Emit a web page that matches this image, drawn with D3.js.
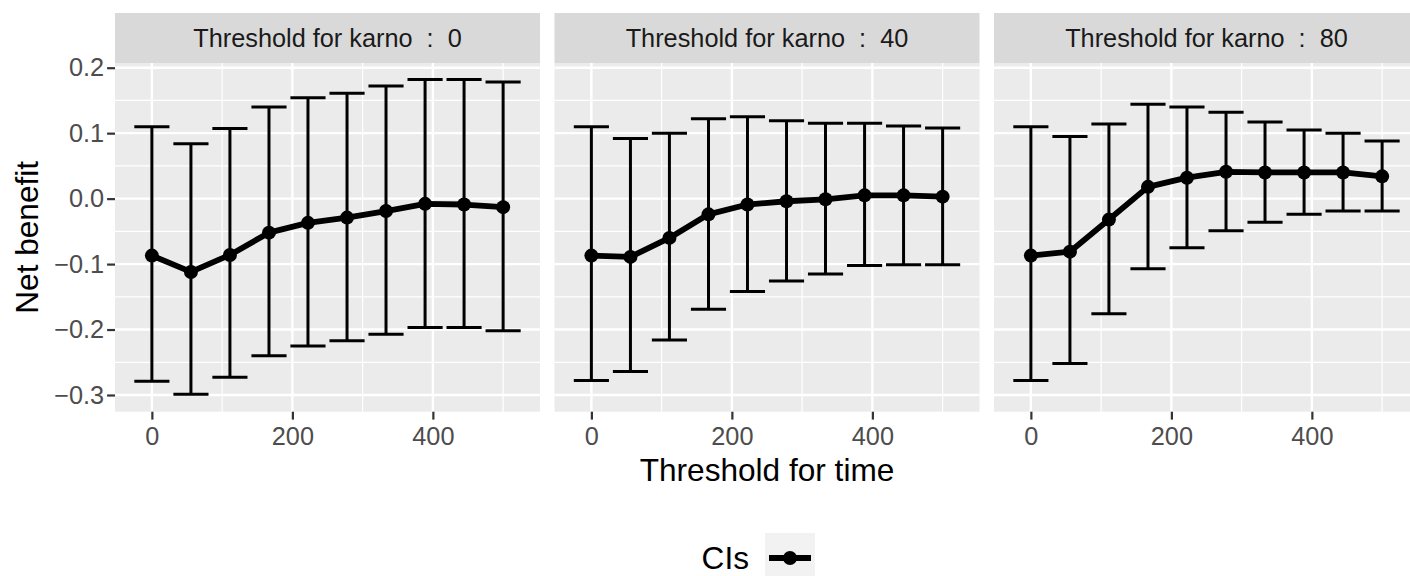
<!DOCTYPE html>
<html>
<head>
<meta charset="utf-8">
<script src="https://cdn.jsdelivr.net/npm/d3@7"></script>
<style>
  body { margin: 0; background: #fff; }
  text { font-family: "Liberation Sans", Arial, sans-serif; }
</style>
</head>
<body>
<div id="chart"></div>
<script>
// data
const thresholdsTime = [0, 55.6, 111.1, 166.7, 222.2, 277.8, 333.3, 388.9, 444.4, 500];
const karnoLevels = ["0", "40", "80"];

const estimate0 = [-0.087, -0.112, -0.086, -0.052, -0.037, -0.029, -0.019, -0.008, -0.009, -0.013];
const lower0 = [-0.279, -0.299, -0.273, -0.240, -0.225, -0.217, -0.207, -0.197, -0.197, -0.202];
const upper0 = [0.110, 0.084, 0.107, 0.140, 0.154, 0.161, 0.172, 0.182, 0.182, 0.178];

const estimate40 = [-0.087, -0.089, -0.060, -0.024, -0.009, -0.004, -0.001, 0.005, 0.005, 0.003];
const lower40 = [-0.278, -0.264, -0.216, -0.169, -0.142, -0.126, -0.115, -0.102, -0.101, -0.101];
const upper40 = [0.110, 0.092, 0.100, 0.122, 0.125, 0.119, 0.115, 0.115, 0.111, 0.108];

const estimate80 = [-0.087, -0.081, -0.032, 0.018, 0.032, 0.041, 0.040, 0.040, 0.040, 0.034];
const lower80 = [-0.278, -0.252, -0.176, -0.107, -0.075, -0.049, -0.036, -0.024, -0.019, -0.019];
const upper80 = [0.110, 0.095, 0.114, 0.144, 0.140, 0.132, 0.117, 0.105, 0.100, 0.088];

const yTicks = [-0.3, -0.2, -0.1, 0.0, 0.1, 0.2];
const xTicks = [0, 200, 400];

const series = [
  {level: karnoLevels[0], est: estimate0, lo: lower0, hi: upper0},
  {level: karnoLevels[1], est: estimate40, lo: lower40, hi: upper40},
  {level: karnoLevels[2], est: estimate80, lo: lower80, hi: upper80}
];

const WIDTH = 1410, HEIGHT = 576;
const PANEL_LEFT = 115, PANEL_W = 425, PANEL_GAP = 14.5;
const STRIP_TOP = 13, STRIP_H = 50;
const PANEL_TOP = STRIP_TOP + STRIP_H, PANEL_BOTTOM = 411.7;
const WHISKER = 25; // half width of errorbar caps, in data units
const SMALL = 25.3, BIG = 31.6; // font sizes

const svg = d3.select("#chart").append("svg")
  .attr("width", WIDTH).attr("height", HEIGHT);

const yScale = d3.scaleLinear().domain([-0.3255, 0.2072]).range([PANEL_BOTTOM, PANEL_TOP]);

series.forEach((s, i) => {
  const x0 = PANEL_LEFT + i * (PANEL_W + PANEL_GAP);
  const xScale = d3.scaleLinear().domain([-52.5, 552.5]).range([x0, x0 + PANEL_W]);
  const g = svg.append("g");

  // strip
  g.append("rect").attr("x", x0).attr("y", STRIP_TOP).attr("width", PANEL_W).attr("height", STRIP_H)
    .attr("fill", "#D9D9D9");
  g.append("text").attr("x", x0 + PANEL_W / 2).attr("y", STRIP_TOP + STRIP_H / 2 + 9)
    .attr("text-anchor", "middle").attr("font-size", SMALL).attr("fill", "#1A1A1A")
    .attr("xml:space", "preserve")
    .text("Threshold for karno  :  " + s.level);

  // panel
  g.append("rect").attr("x", x0).attr("y", PANEL_TOP).attr("width", PANEL_W)
    .attr("height", PANEL_BOTTOM - PANEL_TOP).attr("fill", "#EBEBEB");

  // minor grid
  const yMinor = [-0.25, -0.15, -0.05, 0.05, 0.15];
  const xMinor = [100, 300, 500];
  g.selectAll(".ymin").data(yMinor).enter().append("line")
    .attr("x1", x0).attr("x2", x0 + PANEL_W)
    .attr("y1", d => yScale(d)).attr("y2", d => yScale(d))
    .attr("stroke", "#fff").attr("stroke-width", 1.2);
  g.selectAll(".xmin").data(xMinor).enter().append("line")
    .attr("y1", PANEL_TOP).attr("y2", PANEL_BOTTOM)
    .attr("x1", d => xScale(d)).attr("x2", d => xScale(d))
    .attr("stroke", "#fff").attr("stroke-width", 1.2);
  // major grid
  g.selectAll(".ymaj").data(yTicks).enter().append("line")
    .attr("x1", x0).attr("x2", x0 + PANEL_W)
    .attr("y1", d => yScale(d)).attr("y2", d => yScale(d))
    .attr("stroke", "#fff").attr("stroke-width", 2.4);
  g.selectAll(".xmaj").data(xTicks).enter().append("line")
    .attr("y1", PANEL_TOP).attr("y2", PANEL_BOTTOM)
    .attr("x1", d => xScale(d)).attr("x2", d => xScale(d))
    .attr("stroke", "#fff").attr("stroke-width", 2.4);

  // x axis
  const xAxis = g.append("g").attr("transform", "translate(0," + PANEL_BOTTOM + ")")
    .call(d3.axisBottom(xScale).tickValues(xTicks).tickSize(7.9).tickPadding(7).tickFormat(d3.format("d")));
  xAxis.select(".domain").remove();
  xAxis.selectAll(".tick line").attr("stroke", "#333333").attr("stroke-width", 2.2);
  xAxis.selectAll(".tick text").attr("font-size", SMALL).attr("fill", "#4D4D4D")
    .attr("font-family", "Liberation Sans, Arial, sans-serif");

  // y axis on first panel
  if (i === 0) {
    const yAxis = g.append("g").attr("transform", "translate(" + x0 + ",0)")
      .call(d3.axisLeft(yScale).tickValues(yTicks).tickSize(7.9).tickPadding(3)
        .tickFormat(d => d3.format(".1f")(d).replace("-", "\u2212")));
    yAxis.select(".domain").remove();
    yAxis.selectAll(".tick line").attr("stroke", "#333333").attr("stroke-width", 2.2);
    yAxis.selectAll(".tick text").attr("font-size", SMALL).attr("fill", "#4D4D4D")
      .attr("font-family", "Liberation Sans, Arial, sans-serif");
  }

  const rows = thresholdsTime.map((t, k) => ({t: t, est: s.est[k], lo: s.lo[k], hi: s.hi[k]}));

  // error bars
  const eb = g.selectAll(".eb").data(rows).enter().append("g");
  eb.append("line")
    .attr("x1", d => xScale(d.t)).attr("x2", d => xScale(d.t))
    .attr("y1", d => yScale(d.lo)).attr("y2", d => yScale(d.hi))
    .attr("stroke", "#000").attr("stroke-width", 3);
  eb.append("line")
    .attr("x1", d => xScale(d.t - WHISKER)).attr("x2", d => xScale(d.t + WHISKER))
    .attr("y1", d => yScale(d.lo)).attr("y2", d => yScale(d.lo))
    .attr("stroke", "#000").attr("stroke-width", 3);
  eb.append("line")
    .attr("x1", d => xScale(d.t - WHISKER)).attr("x2", d => xScale(d.t + WHISKER))
    .attr("y1", d => yScale(d.hi)).attr("y2", d => yScale(d.hi))
    .attr("stroke", "#000").attr("stroke-width", 3);

  // line + points
  const line = d3.line().x(d => xScale(d.t)).y(d => yScale(d.est));
  g.append("path").datum(rows).attr("d", line)
    .attr("fill", "none").attr("stroke", "#000").attr("stroke-width", 5.8)
    .attr("stroke-linejoin", "round");
  g.selectAll(".pt").data(rows).enter().append("circle")
    .attr("cx", d => xScale(d.t)).attr("cy", d => yScale(d.est)).attr("r", 7)
    .attr("fill", "#000");
});

// axis titles
const panelsRight = PANEL_LEFT + 3 * PANEL_W + 2 * PANEL_GAP;
svg.append("text").attr("x", (PANEL_LEFT + panelsRight) / 2).attr("y", 481)
  .attr("text-anchor", "middle").attr("font-size", BIG).attr("fill", "#000")
  .text("Threshold for time");
svg.append("text").attr("transform", "translate(38," + ((PANEL_TOP + PANEL_BOTTOM) / 2) + ") rotate(-90)")
  .attr("text-anchor", "middle").attr("font-size", BIG).attr("fill", "#000")
  .text("Net benefit");

// legend
const legend = svg.append("g");
legend.append("text").attr("x", 749).attr("y", 569).attr("text-anchor", "end")
  .attr("font-size", BIG).attr("fill", "#000").text("CIs");
legend.append("rect").attr("x", 765).attr("y", 533).attr("width", 50).attr("height", 50)
  .attr("fill", "#F2F2F2");
legend.append("line").attr("x1", 769).attr("x2", 811).attr("y1", 558).attr("y2", 558)
  .attr("stroke", "#000").attr("stroke-width", 5.8);
legend.append("circle").attr("cx", 790).attr("cy", 558).attr("r", 7).attr("fill", "#000");
</script>
</body>
</html>
